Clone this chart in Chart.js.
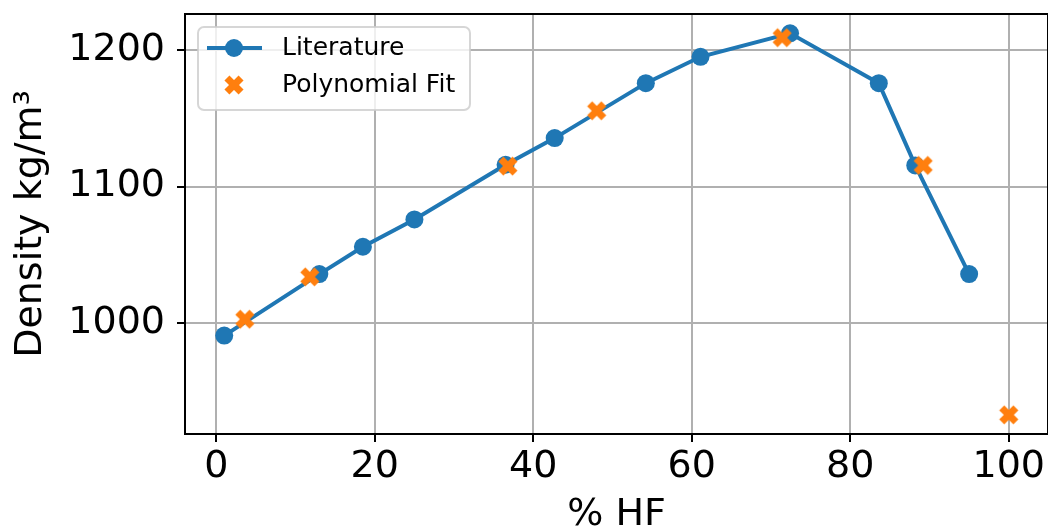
<!DOCTYPE html>
<html lang="en">
<head>
    <meta charset="utf-8">
    <title>Density vs % HF</title>
    <script src="https://cdn.jsdelivr.net/npm/chart.js"></script>
    <style>
        html, body {
            margin: 0;
            padding: 0;
            background: #fff;
            overflow: hidden;
        }
        #wrap {
            position: relative;
            width: 1048px;
            height: 530px;
        }
        canvas {
            display: block;
        }
    </style>
</head>
<body>
    <div id="wrap"><canvas id="densityChart"></canvas></div>

    <script>
        // Literature values
        const litX = [1, 13, 18.5, 25, 36.5, 42.7, 54.2, 61.1, 72.4, 83.6, 88.2, 95];
        const litY = [991, 1036, 1056, 1076, 1116, 1135.5, 1175.7, 1195, 1212.2, 1175.7, 1115.5, 1036];

        // Polynomial fit values
        const fitX = [3.6, 11.8, 36.8, 48.0, 71.4, 89.2, 100];
        const fitY = [1003, 1034, 1115, 1155.5, 1209, 1115.5, 933];

        const xTicks = [0, 20, 40, 60, 80, 100];
        const yTicks = [1000, 1100, 1200];

        const seriesNames = ['Literature', 'Polynomial Fit'];
        const xTitle = '% HF';
        const yTitle = 'Density kg/m³';

        const BLUE = '#1f77b4';
        const ORANGE = '#ff7f0e';
        const FONT = "'DejaVu Sans', sans-serif";

        // filled "X" marker like matplotlib's 'X'
        function makeXMarker(color) {
            const c = document.createElement('canvas');
            c.width = 22;
            c.height = 22;
            const g = c.getContext('2d');
            g.translate(11, 11);
            g.rotate(Math.PI / 4);
            g.fillStyle = color;
            g.fillRect(-10, -3.5, 20, 7);
            g.fillRect(-3.5, -10, 7, 20);
            return c;
        }
        const xMarker = makeXMarker(ORANGE);

        const toPoints = (xs, ys) => xs.map((x, i) => ({ x: x, y: ys[i] }));

        // no extra room around the plot for overhanging labels
        function noPadding(scale) {
            scale.paddingTop = 0;
            scale.paddingBottom = 0;
            scale.paddingLeft = 0;
            scale.paddingRight = 0;
        }

        const framePlugin = {
            id: 'frame',
            afterDatasetsDraw(chart) {
                const { ctx, chartArea: a } = chart;
                ctx.save();
                ctx.strokeStyle = '#000';
                ctx.lineWidth = 2;
                ctx.strokeRect(a.left, a.top, a.right - a.left, a.bottom - a.top);
                ctx.restore();
            }
        };

        const legendPlugin = {
            id: 'mplLegend',
            afterDraw(chart) {
                const { ctx, chartArea: a } = chart;
                const left = a.left + 13, top = a.top + 13, w = 272, h = 83, r = 6;
                ctx.save();
                ctx.beginPath();
                ctx.roundRect(left, top, w, h, r);
                ctx.fillStyle = 'rgba(255,255,255,0.8)';
                ctx.fill();
                ctx.strokeStyle = 'rgba(204,204,204,0.8)';
                ctx.lineWidth = 2;
                ctx.stroke();

                // Literature row
                const y1 = top + 21;
                ctx.strokeStyle = BLUE;
                ctx.lineWidth = 4;
                ctx.beginPath();
                ctx.moveTo(left + 9, y1);
                ctx.lineTo(left + 64, y1);
                ctx.stroke();
                ctx.fillStyle = BLUE;
                ctx.beginPath();
                ctx.arc(left + 36, y1, 9, 0, Math.PI * 2);
                ctx.fill();

                // Fit row
                const y2 = top + 58;
                ctx.drawImage(xMarker, left + 36 - 11, y2 - 11);

                ctx.fillStyle = '#000';
                ctx.font = '25px ' + FONT;
                ctx.textBaseline = 'middle';
                ctx.textAlign = 'left';
                ctx.fillText(seriesNames[0], left + 84, y1);
                ctx.fillText(seriesNames[1], left + 84, y2);
                ctx.restore();
            }
        };

        new Chart(document.getElementById('densityChart'), {
            type: 'scatter',
            data: {
                datasets: [
                    {
                        label: seriesNames[0],
                        data: toPoints(litX, litY),
                        showLine: true,
                        borderColor: BLUE,
                        borderWidth: 4,
                        backgroundColor: BLUE,
                        pointBackgroundColor: BLUE,
                        pointBorderWidth: 0,
                        pointRadius: 9,
                        pointHoverRadius: 9,
                        tension: 0,
                        order: 2
                    },
                    {
                        label: seriesNames[1],
                        data: toPoints(fitX, fitY),
                        showLine: false,
                        pointStyle: xMarker,
                        pointRadius: 11,
                        order: 1
                    }
                ]
            },
            options: {
                responsive: true,
                maintainAspectRatio: false,
                animation: false,
                layout: {
                    autoPadding: false,
                    padding: { top: 14, right: 0, left: 0, bottom: 0 }
                },
                plugins: {
                    legend: { display: false },
                    tooltip: { enabled: false }
                },
                scales: {
                    x: {
                        type: 'linear',
                        min: -3.95,
                        max: 104.95,
                        afterBuildTicks: scale => {
                            scale.ticks = xTicks.map(v => ({ value: v }));
                        },
                        afterFit: scale => {
                            scale.height = 96;
                            noPadding(scale);
                        },
                        grid: {
                            color: '#b0b0b0',
                            lineWidth: 2,
                            tickColor: '#000',
                            tickLength: 8,
                            tickWidth: 2
                        },
                        border: { color: '#000', width: 2 },
                        ticks: {
                            color: '#000',
                            padding: 2,
                            maxRotation: 0,
                            font: { family: FONT, size: 38 },
                            callback: v => String(v)
                        },
                        title: {
                            display: true,
                            text: xTitle,
                            color: '#000',
                            font: { family: FONT, size: 38, lineHeight: 1 },
                            padding: { top: 0, bottom: -4 }
                        }
                    },
                    y: {
                        type: 'linear',
                        min: 919,
                        max: 1226.3,
                        afterBuildTicks: scale => {
                            scale.ticks = yTicks.map(v => ({ value: v }));
                        },
                        afterFit: scale => {
                            scale.width = 185;
                            noPadding(scale);
                        },
                        grid: {
                            color: '#b0b0b0',
                            lineWidth: 2,
                            tickColor: '#000',
                            tickLength: 8,
                            tickWidth: 2
                        },
                        border: { color: '#000', width: 2 },
                        ticks: {
                            color: '#000',
                            padding: 12,
                            font: { family: FONT, size: 38 },
                            callback: v => String(v)
                        },
                        title: {
                            display: true,
                            text: yTitle,
                            color: '#000',
                            font: { family: FONT, size: 38, lineHeight: 1 },
                            padding: { top: 12, bottom: 0 }
                        }
                    }
                }
            },
            plugins: [framePlugin, legendPlugin]
        });
    </script>
</body>
</html>
